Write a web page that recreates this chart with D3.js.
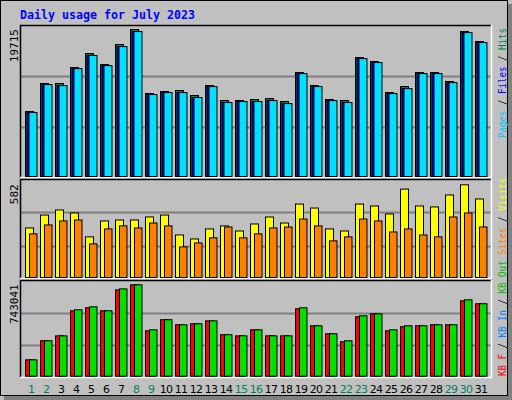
<!DOCTYPE html>
<html><head><meta charset="utf-8">
<script src="https://cdn.jsdelivr.net/npm/d3@7"></script>
<style>body{margin:0;background:#fff}</style></head><body>
<script>
const days = d3.range(1,32);
const weekend = [1,2,8,9,15,16,22,23,29,30];
const hits  = [8717,12472,12472,14618,16495,15020,17702,19715,11131,11400,11533,10863,12204,10192,10192,10326,10460,10058,13947,12204,10326,10192,15959,15422,11265,12070,13947,13947,12740,19447,18105];
const files = [8600,12340,12200,14480,16240,14880,17430,19450,11000,11270,11260,10600,12070,9930,10060,10060,10200,9790,13810,12070,10190,9930,15820,15290,11130,11800,13810,13810,12600,19310,17970];
const pages = [8580,12330,12190,14470,16230,14870,17420,19440,10990,11260,11250,10590,12060,9920,10050,10050,10190,9780,13800,12060,10180,9920,15810,15280,11120,11790,13800,13800,12590,19300,17960];
const visits = [311,392,424,405,255,355,361,361,380,392,267,242,305,324,292,336,380,342,461,436,305,292,461,449,399,555,449,443,518,582,493];
const sites  = [274,330,355,361,211,305,324,311,342,324,192,217,249,317,249,274,311,317,367,324,230,255,367,355,286,305,267,255,380,405,317];
const kbF   = [133000,288000,328000,532000,556000,532000,702000,743041,369000,459000,418000,426000,450000,337000,328000,377000,328000,328000,548000,410000,345000,280000,483000,507000,369000,402000,410000,418000,418000,613000,589000];
const kbOut = [133000,288000,328000,540000,564000,532000,710000,743041,377000,459000,418000,426000,450000,337000,328000,377000,328000,328000,556000,410000,345000,288000,491000,507000,377000,410000,410000,418000,418000,621000,589000];
const maxLabels = ["19715","582","743041"];

const W=512,H=400;
const svg=d3.select("body").append("svg").attr("width",W).attr("height",H);
svg.append("rect").attr("width",W).attr("height",H).attr("fill","#c0c0c0");
svg.append("rect").attr("x",0.5).attr("y",0.5).attr("width",W-5).attr("height",H-5).attr("fill","none").attr("stroke","#000");
svg.append("rect").attr("x",W-4).attr("y",4).attr("width",4).attr("height",H-4).attr("fill","#808080");
svg.append("rect").attr("x",4).attr("y",H-4).attr("width",W-4).attr("height",4).attr("fill","#808080");
svg.append("text").attr("x",20).attr("y",19).text("Daily usage for July 2023")
  .attr("font-family","DejaVu Sans Mono").attr("font-weight","bold").attr("font-size",12).attr("fill","#0000ff")
  .attr("textLength",175).attr("lengthAdjust","spacingAndGlyphs");

const x=d3.scaleLinear().domain([1,31]).range([25,475]);
const panels=[
 {top:25,bot:178,base:176,maxY:29,max:19715,label:maxLabels[0]},
 {top:179,bot:279,base:277,maxY:184.3,max:582,label:maxLabels[1]},
 {top:280,bot:378,base:375.7,maxY:284.3,max:743041,label:maxLabels[2]}];
panels.forEach(p=>{
  p.y=d3.scaleLinear().domain([0,p.max]).range([p.base,p.maxY]);
  const h=p.bot-p.top;
  [1,2].forEach(k=>{const gy=Math.round(p.bot-h*k/3)+0.5;
    svg.append("line").attr("x1",20).attr("x2",491).attr("y1",gy).attr("y2",gy).attr("stroke","#808080").attr("stroke-width",2);});
  svg.append("path").attr("d",`M20.5,${p.bot}V${p.top+0.5}H491`).attr("fill","none").attr("stroke","#000").attr("stroke-width",1.5);
  svg.append("path").attr("d",`M491.5,${p.top}V${p.bot-0.5}H20`).attr("fill","none").attr("stroke","#fff").attr("stroke-width",1.5);
  svg.append("text").attr("transform",`translate(18,${p.maxY}) rotate(-90)`).attr("text-anchor","end")
    .attr("font-family","DejaVu Sans Mono").attr("font-size",11).attr("fill","#000").text(p.label);
});
function bars(data,p,dx,w,color){
  svg.append("g").selectAll("rect").data(data).join("rect")
   .attr("x",(d,i)=>x(days[i])+dx+0.5).attr("width",w)
   .attr("y",d=>p.y(d)+0.5).attr("height",d=>p.base-p.y(d))
   .attr("fill",color).attr("stroke","#000").attr("stroke-width",1);
}
bars(hits,panels[0],0,8,"#00805c");
bars(files,panels[0],1.5,8,"#0000ff");
bars(pages,panels[0],3.5,8,"#00e0ff");
bars(visits,panels[1],0,8,"#ffff00");
bars(sites,panels[1],4,7.5,"#ff8000");
bars(kbF,panels[2],0,8,"#ff0000");
bars(kbOut,panels[2],4,7.5,"#00e000");

svg.append("g").selectAll("text").data(days).join("text")
 .attr("x",d=>x(d)+6).attr("y",393).attr("text-anchor","middle")
 .attr("font-family","DejaVu Sans").attr("font-size",11).attr("letter-spacing",-0.8)
 .attr("fill",d=>weekend.includes(d)?"#008060":"#000").text(d=>d);

function legend(y,len,parts){
  const t=svg.append("text").attr("transform",`translate(506,${y}) rotate(-90)`)
    .attr("font-family","DejaVu Sans Mono").attr("font-size",11)
    .attr("textLength",len).attr("lengthAdjust","spacingAndGlyphs");
  parts.forEach(([s,c])=>t.append("tspan").attr("fill",c).text(s));
}
legend(138,110,[["Pages","#00c0ff"],[" / ","#000"],["Files","#0000ff"],[" / ","#000"],["Hits","#008040"]]);
legend(376,198,[["KB F","#ff0000"],[" / ","#000"],["KB In","#0080ff"],[" / ","#000"],["KB Out","#00c000"],["  ","#000"],["Sites","#ff8000"],[" / ","#000"],["Visits","#ffff00"]]);
</script></body></html>
